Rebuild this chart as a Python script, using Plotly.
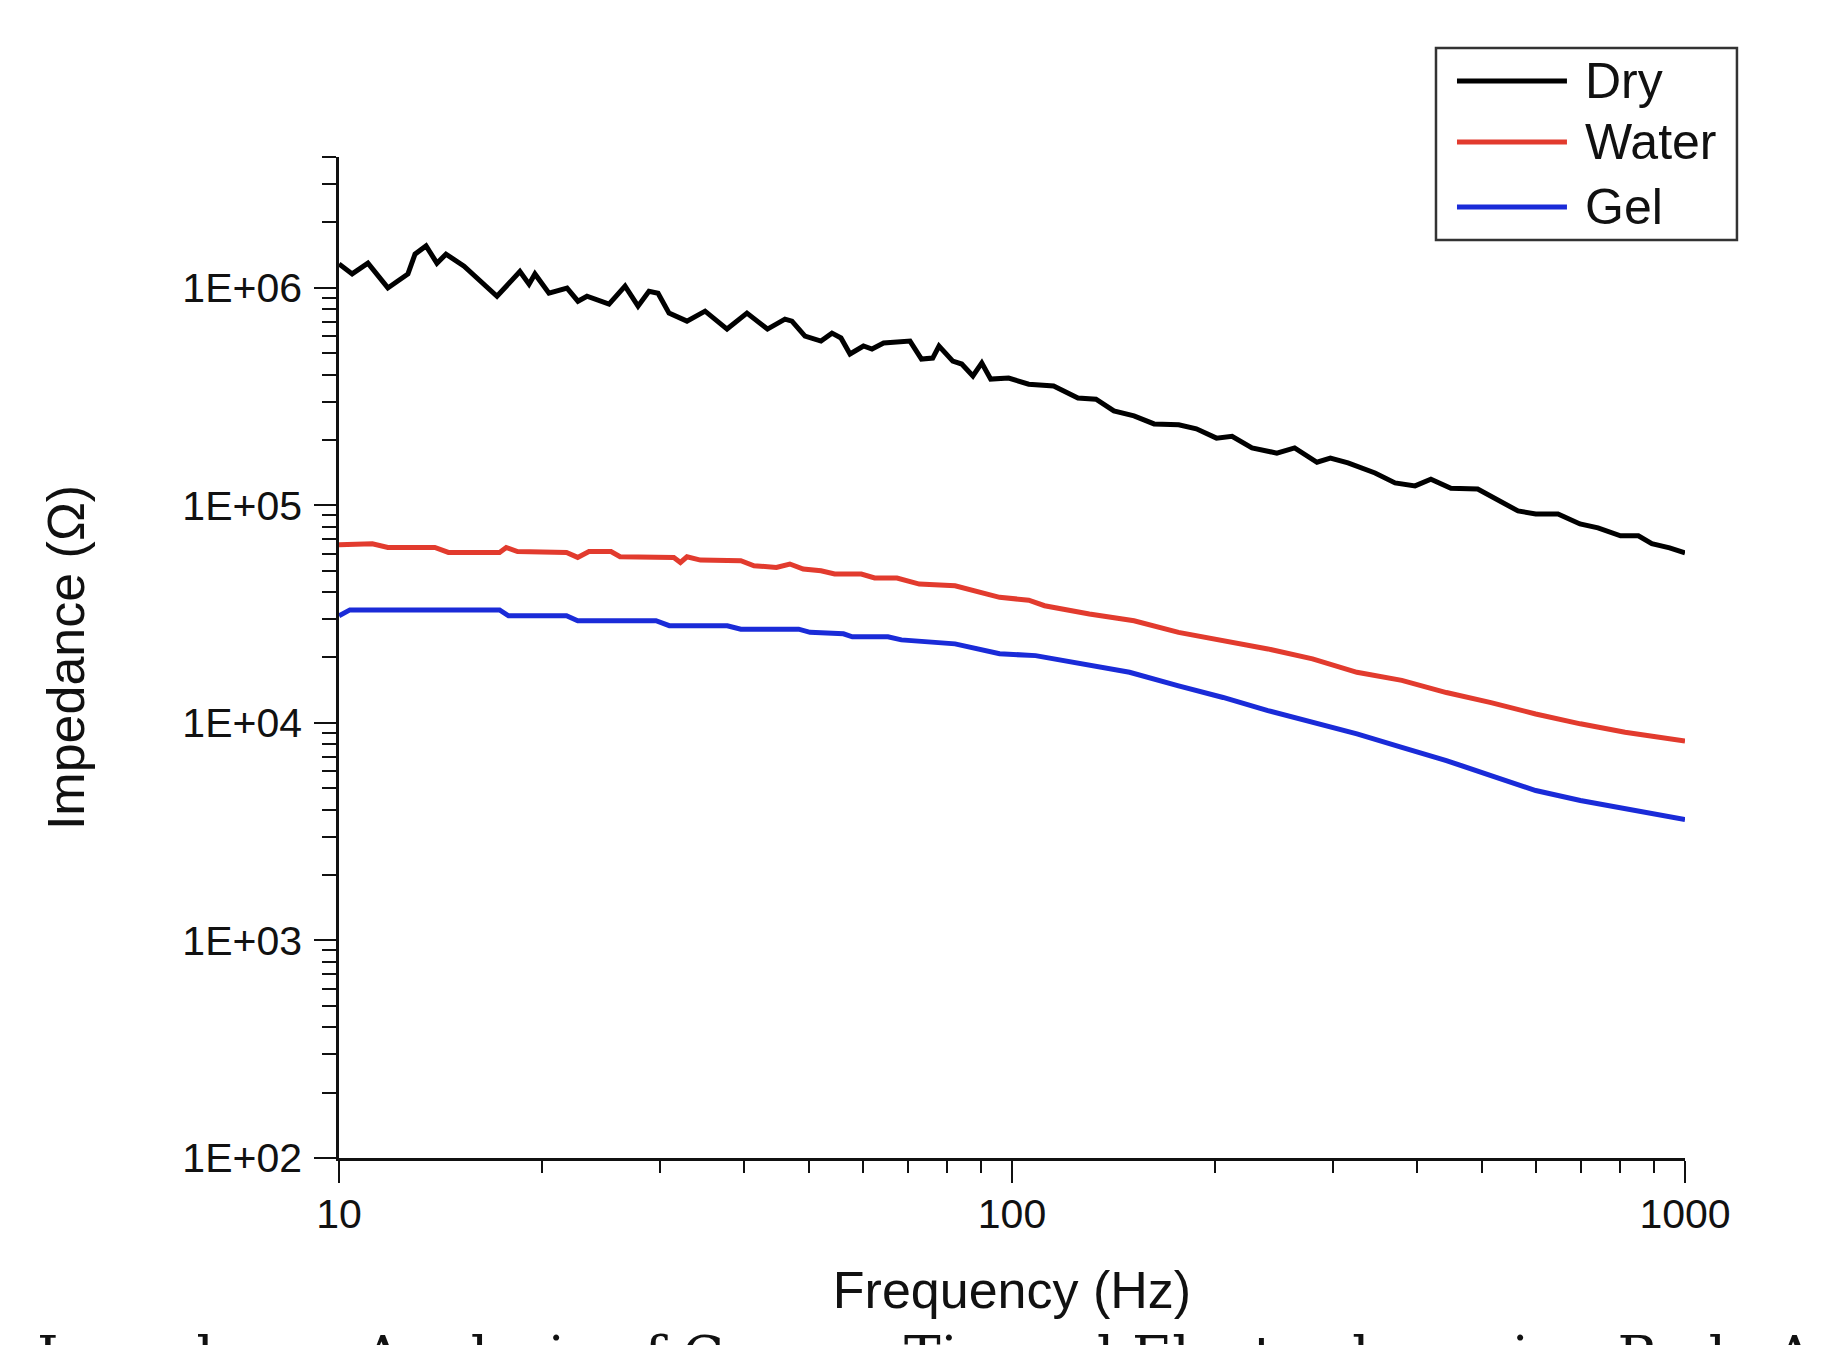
import plotly.graph_objects as go

# ---------------- data ----------------
dry_freq = [10.0, 10.46, 11.04, 11.82, 12.2, 12.66, 12.97, 13.47, 13.98, 14.42, 15.34, 16.31,
            17.17, 18.57, 19.16, 19.55, 20.51, 21.82, 22.65, 23.36, 25.19, 26.61, 27.82, 28.88,
            29.79, 30.93, 32.89, 34.99, 37.72, 40.38, 43.32, 45.99, 47.1, 49.25, 52.02, 54.01,
            55.7, 57.45, 60.16, 61.94, 64.45, 70.54, 73.37, 76.24, 77.9, 81.66, 84.2, 87.48,
            90.18, 92.98, 98.86, 105.9, 115.3, 125.3, 133.3, 141.7, 151.8, 162.6, 176.9, 187.9,
            201.3, 212.3, 227.3, 247.5, 263.0, 283.9, 297.2, 315.7, 346.3, 370.8, 397.1, 419.2,
            448.9, 492.0, 522.9, 564.7, 600.0, 647.6, 698.2, 742.5, 802.0, 852.6, 892.7, 948.7, 1000]
dry_z = [1.29e6, 1.16e6, 1.30e6, 1.00e6, 1.07e6, 1.16e6, 1.43e6, 1.56e6, 1.30e6, 1.43e6, 1.26e6, 1.05e6,
         9.16e5, 1.19e6, 1.04e6, 1.16e6, 9.46e5, 9.98e5, 8.69e5, 9.16e5, 8.43e5, 1.02e6, 8.25e5, 9.66e5,
         9.46e5, 7.66e5, 7.04e5, 7.82e5, 6.47e5, 7.66e5, 6.47e5, 7.19e5, 7.04e5, 6.01e5, 5.70e5, 6.20e5,
         5.89e5, 4.97e5, 5.41e5, 5.24e5, 5.58e5, 5.70e5, 4.71e5, 4.76e5, 5.41e5, 4.61e5, 4.47e5, 3.94e5,
         4.52e5, 3.81e5, 3.85e5, 3.61e5, 3.54e5, 3.12e5, 3.08e5, 2.72e5, 2.58e5, 2.37e5, 2.35e5, 2.25e5,
         2.04e5, 2.08e5, 1.84e5, 1.74e5, 1.84e5, 1.58e5, 1.65e5, 1.57e5, 1.41e5, 1.27e5, 1.23e5, 1.32e5,
         1.20e5, 1.19e5, 1.07e5, 9.44e4, 9.14e4, 9.14e4, 8.22e4, 7.89e4, 7.25e4, 7.25e4, 6.67e4, 6.38e4, 6.05e4]

water_freq = [10.0, 11.21, 11.82, 13.88, 14.54, 17.32, 17.72, 18.42, 21.78, 22.63, 23.52, 25.36,
              26.16, 31.44, 32.16, 32.89, 34.44, 39.54, 41.37, 44.66, 46.76, 48.95, 52.02, 54.51,
              59.72, 62.5, 67.47, 72.83, 82.3, 88.81, 95.85, 105.9, 111.8, 130.3, 151.8, 176.8,
              205.9, 240.0, 279.6, 325.5, 379.5, 442.0, 514.9, 600.0, 699.1, 814.5, 1000]
water_z = [6.59e4, 6.66e4, 6.41e4, 6.41e4, 6.08e4, 6.08e4, 6.41e4, 6.14e4, 6.08e4, 5.77e4, 6.14e4, 6.14e4,
           5.81e4, 5.77e4, 5.47e4, 5.81e4, 5.61e4, 5.57e4, 5.28e4, 5.19e4, 5.38e4, 5.10e4, 5.01e4, 4.84e4,
           4.84e4, 4.64e4, 4.64e4, 4.35e4, 4.27e4, 4.02e4, 3.78e4, 3.67e4, 3.46e4, 3.17e4, 2.95e4, 2.61e4,
           2.39e4, 2.19e4, 1.97e4, 1.71e4, 1.57e4, 1.38e4, 1.24e4, 1.10e4, 9.91e3, 9.06e3, 8.25e3]

gel_freq = [10.0, 10.38, 17.32, 17.86, 21.78, 22.63, 29.58, 30.96, 37.76, 39.54, 48.2, 50.11,
            56.18, 57.91, 65.41, 68.5, 82.3, 88.81, 95.85, 108.4, 130.3, 149.5, 176.8, 205.9,
            240.0, 279.6, 325.5, 379.5, 442.0, 514.9, 600.0, 699.1, 814.5, 1000]
gel_z = [3.11e4, 3.31e4, 3.31e4, 3.11e4, 3.11e4, 2.95e4, 2.95e4, 2.80e4, 2.80e4, 2.70e4, 2.70e4, 2.61e4,
         2.57e4, 2.49e4, 2.49e4, 2.41e4, 2.31e4, 2.19e4, 2.08e4, 2.04e4, 1.83e4, 1.71e4, 1.48e4, 1.31e4,
         1.14e4, 1.01e4, 8.91e3, 7.73e3, 6.72e3, 5.73e3, 4.89e3, 4.40e3, 4.03e3, 3.60e3]

series_names = ["Dry", "Water", "Gel"]
series_colors = ["#000000", "#E23B2E", "#1A2BD8"]

x_tickvals = [10, 100, 1000]
x_ticktext = ["10", "100", "1000"]
y_tickvals = [1e2, 1e3, 1e4, 1e5, 1e6]
y_ticktext = ["1E+02", "1E+03", "1E+04", "1E+05", "1E+06"]

x_title = "Frequency (Hz)"
y_title = "Impedance (Ω)"
caption = "Impedance Analysis of Copper Tin and Electrodes using Body A"

# ---------------- figure ----------------
FONT = "Liberation Sans, Arial, sans-serif"
fig = go.Figure()
for fx, fz, name, col in zip([dry_freq, water_freq, gel_freq], [dry_z, water_z, gel_z],
                             series_names, series_colors):
    fig.add_trace(go.Scatter(x=fx, y=fz, mode="lines", name=name,
                             line=dict(color=col, width=5), showlegend=False))

axis_common = dict(showline=True, linecolor="#111111", linewidth=2.5, showgrid=False,
                   zeroline=False, ticks="outside", ticklen=22, tickwidth=2.2,
                   tickcolor="#111111", tickfont=dict(family=FONT, size=41, color="#111111"),
                   mirror=False)

fig.update_xaxes(type="log", range=[1, 3], tickmode="array", tickvals=x_tickvals,
                 ticktext=x_ticktext, ticklabelstandoff=-4,
                 minor=dict(ticks="outside", ticklen=12, tickwidth=2, tickcolor="#111111", dtick="D1"),
                 title=dict(text=x_title, font=dict(family=FONT, size=52, color="#111111"), standoff=36),
                 **axis_common)
fig.update_yaxes(type="log", range=[2, 6.602], tickmode="array", tickvals=y_tickvals,
                 ticktext=y_ticktext, ticklabelstandoff=4,
                 minor=dict(ticks="outside", ticklen=14, tickwidth=2, tickcolor="#111111", dtick="D1"),
                 title=dict(text=y_title, font=dict(family=FONT, size=52, color="#111111"), standoff=82),
                 **axis_common)

# custom legend (Origin-style, long line samples)
shapes = [dict(type="rect", xref="paper", yref="paper", x0=0.815, x1=1.0386, y0=0.917, y1=1.109,
               line=dict(color="#333333", width=2.5), fillcolor="white", layer="above")]
annotations = []
legend_y = [1.076, 1.015, 0.950]
for name, col, ly in zip(series_names, series_colors, legend_y):
    shapes.append(dict(type="line", xref="paper", yref="paper", x0=0.8306, x1=0.9123, y0=ly, y1=ly,
                       line=dict(color=col, width=5)))
    annotations.append(dict(xref="paper", yref="paper", x=0.9242, y=ly, xanchor="left",
                            yanchor="middle", text=name, showarrow=False,
                            font=dict(family=FONT, size=50, color="#111111")))

annotations.append(dict(xref="paper", yref="paper", x=-0.226, y=-0.1634, xanchor="left",
                        yanchor="top", text=caption, showarrow=False,
                        font=dict(family="DejaVu Serif, serif", size=55, color="#111111")))

fig.update_layout(width=1825, height=1345, margin=dict(l=339, r=140, t=157, b=187),
                  paper_bgcolor="white", plot_bgcolor="white",
                  shapes=shapes, annotations=annotations)

fig.write_html("out.html", config={"displayModeBar": False},
               post_script="document.body.style.margin='0';document.body.style.overflow='hidden';")
